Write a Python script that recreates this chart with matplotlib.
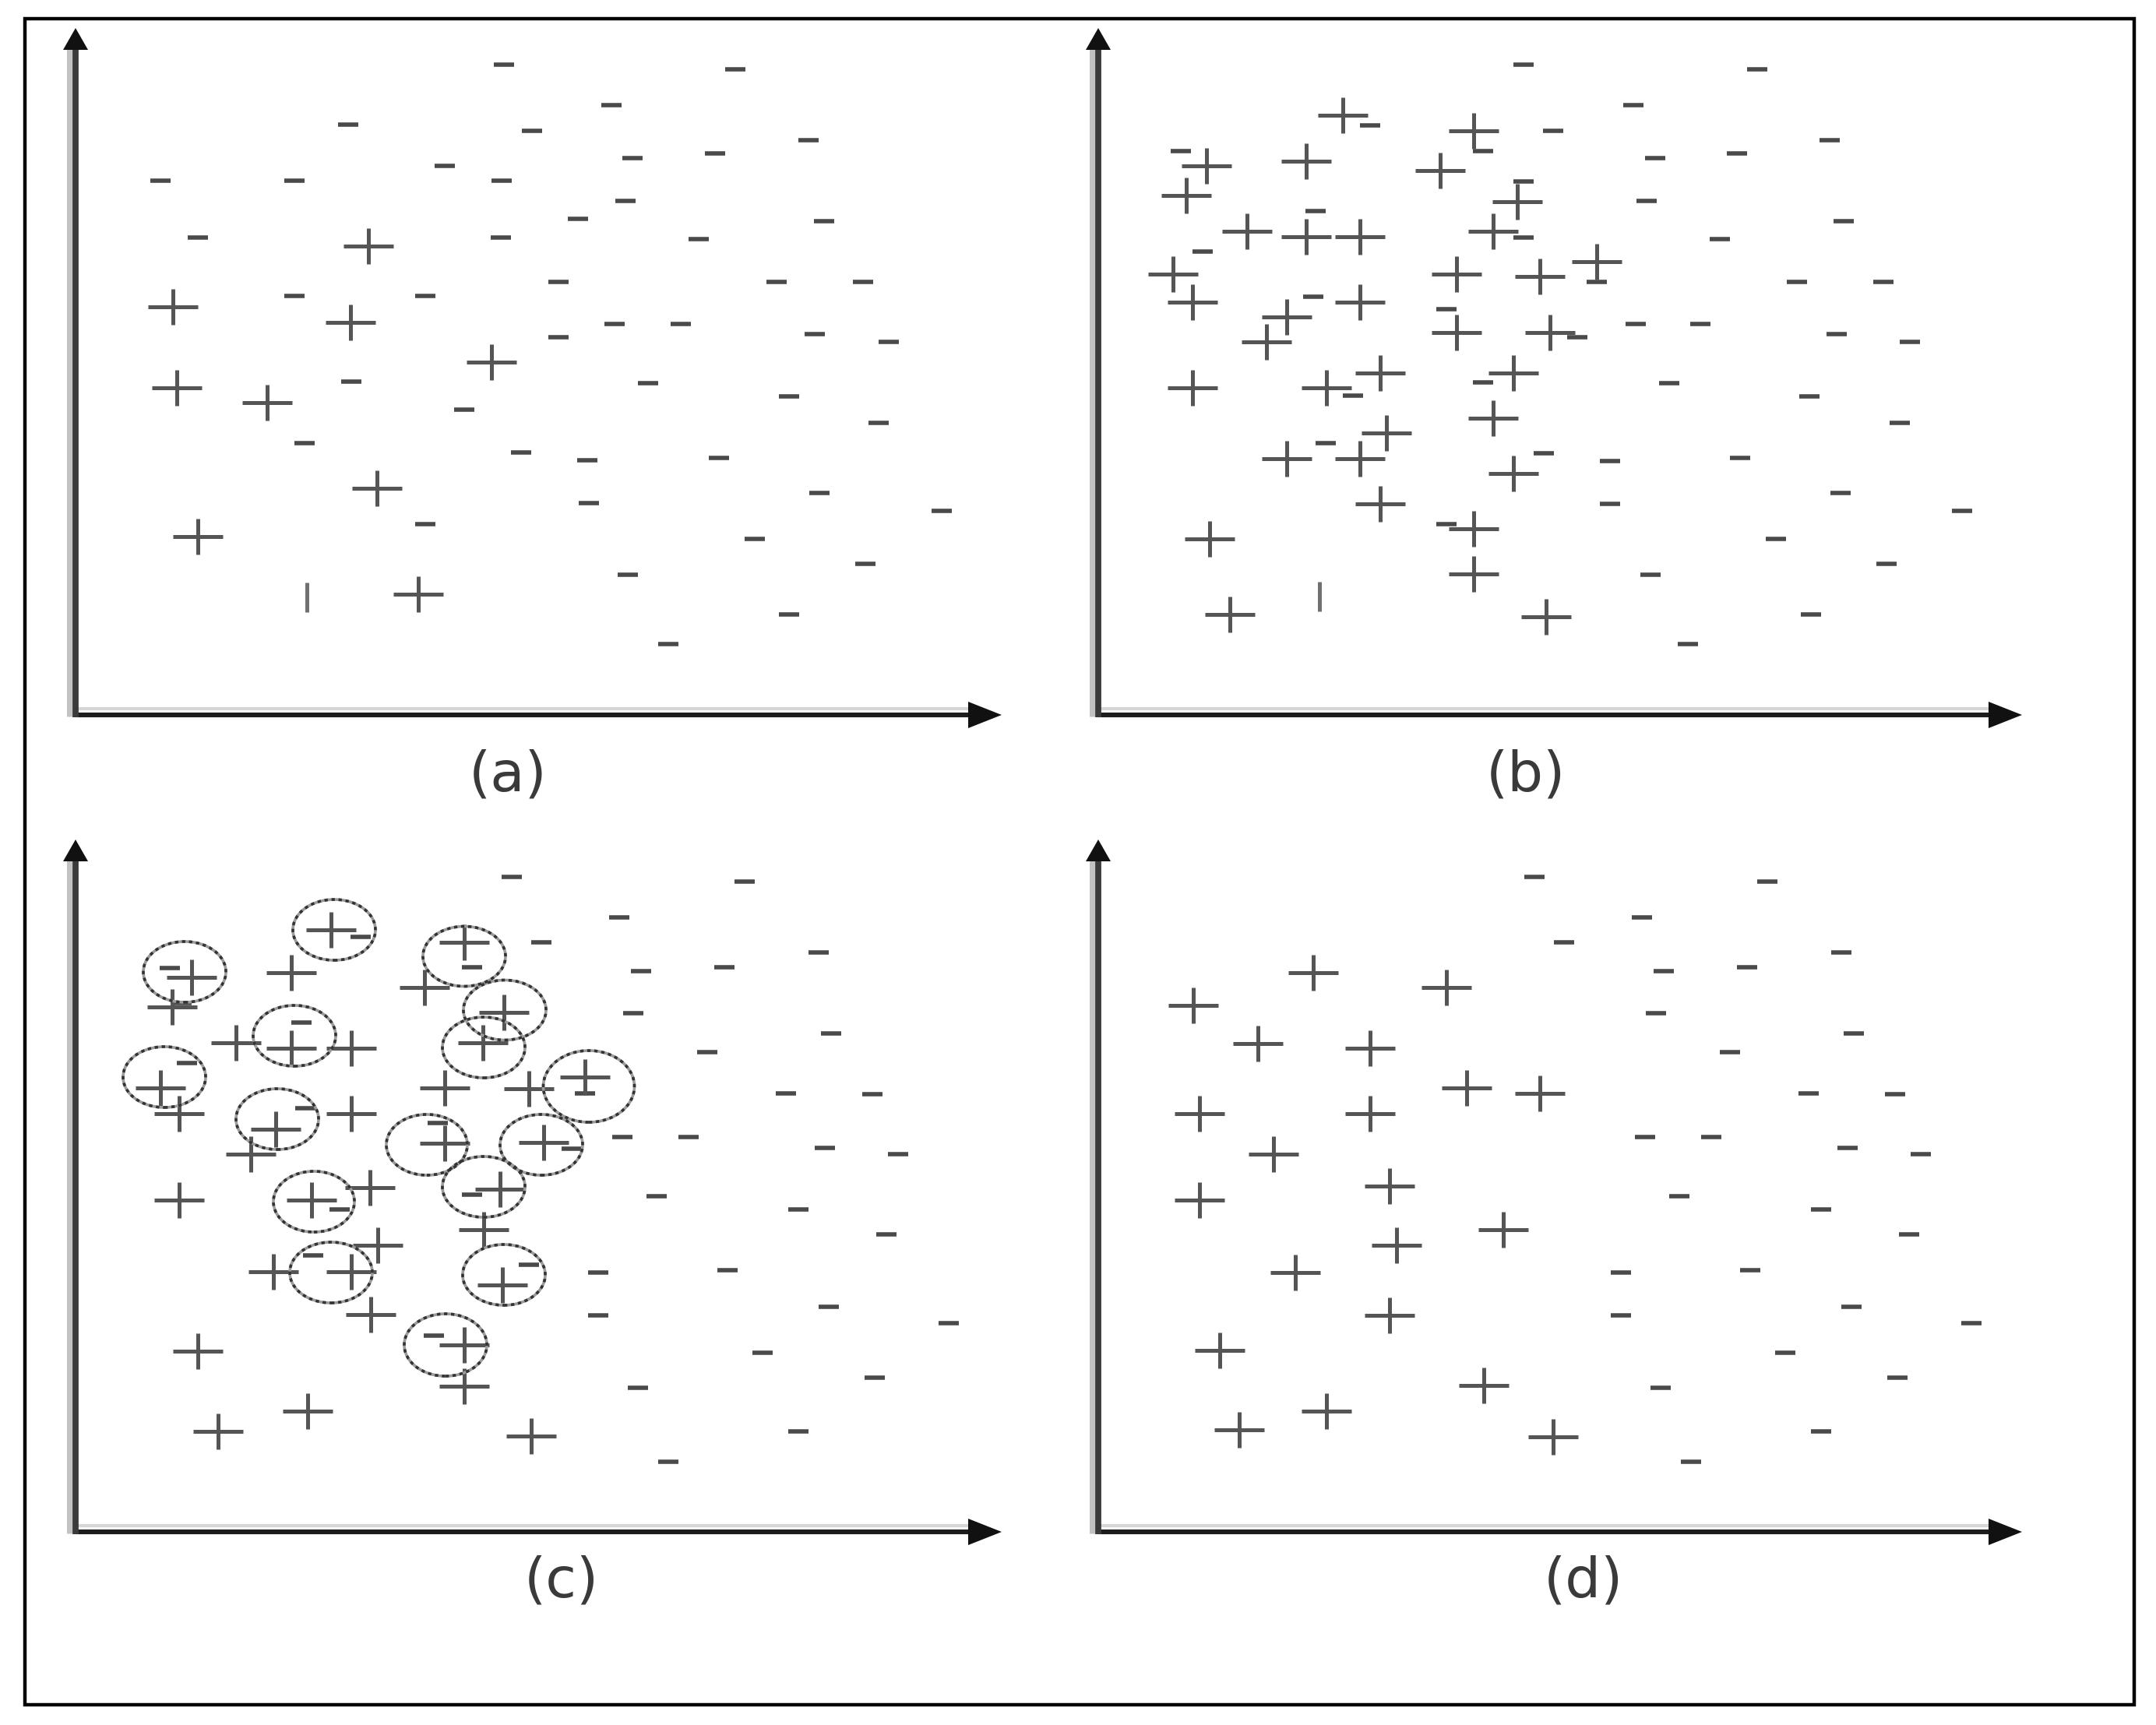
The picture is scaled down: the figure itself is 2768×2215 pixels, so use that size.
import matplotlib
matplotlib.use('Agg')
import matplotlib.pyplot as plt
from matplotlib.path import Path
from matplotlib.patches import Ellipse, Polygon, Rectangle

# ---------------- data (units: pixels from each panel's origin) ----------------
# panel (a): original data
a_minus_x = [550, 847, 688, 350, 586, 941, 715, 821, 474, 109, 281, 547, 706, 645, 961, 157,
             546, 800, 620, 900, 1011, 281, 449, 692, 777, 620, 949, 1044, 354, 735, 916, 499,
             1031, 294, 572, 657, 826, 955, 659, 1112, 449, 872, 1014, 709, 916, 761]
a_minus_y = [835, 829, 783, 758, 750, 738, 715, 721, 705, 686, 686, 686, 660, 637, 634, 613,
             613, 611, 556, 556, 556, 538, 538, 502, 502, 485, 489, 479, 428, 426, 409, 392,
             375, 349, 337, 327, 330, 285, 272, 262, 245, 226, 194, 180, 129, 91]
a_plus_x = [376, 125, 353, 534, 130, 246, 387, 157, 440]
a_plus_y = [602, 524, 504, 453, 420, 401, 291, 229, 155]
a_bar_x = [297]
a_bar_y = [151]

# panel (b): after oversampling
b_minus_x = [546, 846, 687, 349, 584, 939, 494, 715, 820, 106, 546, 704, 279, 957, 546, 798,
             134, 640, 897, 1008, 276, 447, 690, 773, 615, 948, 1042, 494, 327, 733, 913, 1029,
             292, 572, 657, 824, 953, 657, 1109, 447, 870, 1012, 709, 915, 757]
b_minus_y = [835, 829, 783, 757, 750, 738, 724, 715, 721, 724, 685, 660, 647, 634, 613, 611,
             595, 556, 556, 556, 537, 521, 502, 502, 485, 489, 479, 427, 410, 426, 409, 375,
             349, 336, 326, 330, 285, 271, 262, 245, 226, 194, 180, 129, 91]
b_plus_x = [314, 482, 139, 267, 439, 113, 538, 191, 267, 336, 507, 96, 460, 567, 640, 121,
            336, 242, 216, 460, 580, 362, 533, 121, 293, 507, 370, 242, 336, 533, 362, 143,
            482, 482, 169, 575]
b_plus_y = [770, 750, 705, 711, 699, 667, 659, 621, 614, 614, 621, 566, 566, 563, 582, 530,
            530, 511, 479, 491, 491, 439, 439, 420, 420, 381, 362, 329, 329, 310, 271, 226,
            239, 181, 129, 126]
b_bar_x = [284]
b_bar_y = [152]

# panels (c) and (d): majority points shared
cd_minus_x = [560, 859, 698, 598, 954, 726, 833, 716, 970, 811, 912, 1023, 702, 787, 962,
              1056, 746, 928, 1041, 671, 837, 967, 671, 1121, 882, 1026, 722, 928, 761]
cd_minus_y = [841, 835, 789, 757, 744, 720, 725, 666, 640, 616, 563, 562, 507, 507, 493,
              485, 431, 414, 382, 333, 336, 289, 278, 268, 230, 198, 185, 129, 90]

# panel (c): noisy majority points, minority points, detected noise circles
c_noise_minus_x = [121, 136, 366, 509, 290, 143, 654, 295, 465, 509, 637, 339, 305, 582, 460]
c_noise_minus_y = [724, 679, 764, 725, 654, 602, 563, 544, 525, 433, 492, 414, 355, 343, 252]
c_plus_x = [149, 124, 328, 277, 499, 448, 550, 523, 206, 277, 354, 109, 133, 257, 354, 225,
            474, 582, 654, 474, 601, 378, 545, 133, 303, 524, 388, 254, 354, 548, 379, 157,
            499, 499, 298, 183, 585]
c_plus_y = [712, 674, 773, 718, 757, 699, 667, 628, 628, 621, 621, 570, 537, 517, 537, 485,
            570, 569, 584, 499, 500, 442, 440, 426, 426, 388, 368, 334, 334, 317, 279, 232,
            240, 187, 155, 129, 123]
circle_x = [140, 332, 499, 551, 524, 281, 114, 659, 259, 451, 598, 524, 306, 328, 550, 475]
circle_y = [719, 773, 739, 670, 622, 637, 584, 572, 530, 497, 497, 443, 424, 333, 330, 240]
circle_w = [106, 106, 106, 106, 106, 106, 106, 117, 106, 104, 106, 106, 104, 106, 106, 106]
circle_h = [78, 78, 77, 77, 78, 78, 78, 92, 78, 78, 78, 78, 78, 78, 78, 80]

# panel (d): cleaned data
d_plus_x = [276, 447, 122, 205, 349, 473, 567, 130, 349, 225, 374, 130, 520, 383, 253, 374,
            156, 495, 293, 181, 584]
d_plus_y = [718, 699, 676, 627, 621, 570, 563, 537, 537, 485, 444, 426, 388, 368, 333, 278,
            233, 188, 155, 131, 122]

labels = ['(a)', '(b)', '(c)', '(d)']

# ---------------- figure ----------------
W, H = 2768, 2215
DPI = 100
fig = plt.figure(figsize=(W / DPI, H / DPI), dpi=DPI)
fig.patch.set_facecolor('white')

PLUS = Path([(-1, 0), (1, 0), (0, -0.72), (0, 0.72)],
            [Path.MOVETO, Path.LINETO, Path.MOVETO, Path.LINETO])

PLUS_COLOR = '#555555'
MINUS_COLOR = '#4a4a4a'


def make_panel(ox, oy, xmax, ymax):
    ax = fig.add_axes([ox / W, 1 - oy / H, xmax / W, ymax / H])
    ax.set_xlim(0, xmax)
    ax.set_ylim(0, ymax)
    ax.axis('off')
    # light halo lines
    ax.plot([-8, -8], [-2, ymax - 24], color='#c2c2c2', lw=5, solid_capstyle='butt',
            clip_on=False, zorder=1)
    ax.plot([0, xmax - 40], [8, 8], color='#d6d6d6', lw=3, solid_capstyle='butt',
            clip_on=False, zorder=1)
    # axis lines
    ax.plot([0, xmax - 30], [0, 0], color='#1c1c1c', lw=4.4, solid_capstyle='butt',
            clip_on=False, zorder=2)
    ax.plot([0, 0], [-3, ymax - 20], color='#3a3a3a', lw=5.6, solid_capstyle='butt',
            clip_on=False, zorder=2)
    ax.add_patch(Polygon([[xmax, 0], [xmax - 43, 17], [xmax - 43, -17]], closed=True,
                         facecolor='#111111', edgecolor='none', clip_on=False, zorder=3))
    ax.add_patch(Polygon([[0, ymax], [-16, ymax - 28], [16, ymax - 28]], closed=True,
                         facecolor='#111111', edgecolor='none', clip_on=False, zorder=3))
    return ax


def draw_minus(ax, xs, ys):
    ax.plot(xs, ys, linestyle='none', marker='_', markersize=19, markeredgewidth=4.0,
            markeredgecolor=MINUS_COLOR, clip_on=False, zorder=4)


def draw_plus(ax, xs, ys):
    ax.plot(xs, ys, linestyle='none', marker=PLUS, markersize=46, markeredgewidth=3.6,
            markeredgecolor=PLUS_COLOR, markerfacecolor='none', clip_on=False, zorder=5)


def draw_bar(ax, xs, ys):
    ax.plot(xs, ys, linestyle='none', marker='|', markersize=28, markeredgewidth=3.6,
            markeredgecolor='#707070', clip_on=False, zorder=5)


panels = [(97, 918, 1189, 882), (1410, 918, 1186, 882),
          (97, 1967, 1189, 889), (1410, 1967, 1186, 889)]

ax_a = make_panel(*panels[0])
draw_minus(ax_a, a_minus_x, a_minus_y)
draw_plus(ax_a, a_plus_x, a_plus_y)
draw_bar(ax_a, a_bar_x, a_bar_y)

ax_b = make_panel(*panels[1])
draw_minus(ax_b, b_minus_x, b_minus_y)
draw_plus(ax_b, b_plus_x, b_plus_y)
draw_bar(ax_b, b_bar_x, b_bar_y)

ax_c = make_panel(*panels[2])
draw_minus(ax_c, cd_minus_x, cd_minus_y)
draw_minus(ax_c, c_noise_minus_x, c_noise_minus_y)
draw_plus(ax_c, c_plus_x, c_plus_y)
for cx, cy, cw, ch in zip(circle_x, circle_y, circle_w, circle_h):
    ax_c.add_patch(Ellipse((cx, cy), cw, ch, fill=False, edgecolor='#9c9c9c', lw=2.6,
                           clip_on=False, zorder=6))
    ax_c.add_patch(Ellipse((cx, cy), cw, ch, fill=False, edgecolor='#333333', lw=2.6,
                           linestyle=(0, (1.2, 1.3)), clip_on=False, zorder=7))

ax_d = make_panel(*panels[3])
draw_minus(ax_d, cd_minus_x, cd_minus_y)
draw_plus(ax_d, d_plus_x, d_plus_y)

# panel labels
label_pos = [(652, 1015), (1959, 1015), (721, 2050), (2033, 2050)]
for (lx, ly), txt in zip(label_pos, labels):
    fig.text(lx / W, 1 - ly / H, txt, ha='center', va='baseline', fontsize=52,
             color='#3a3a3a', family='DejaVu Sans')

# outer frame
fig.add_artist(Rectangle((32 / W, 1 - 2189 / H), (2740 - 32) / W, (2189 - 24) / H,
                         transform=fig.transFigure, fill=False, edgecolor='black', lw=3.2))

fig.savefig('out.png', dpi=DPI, facecolor='white')
